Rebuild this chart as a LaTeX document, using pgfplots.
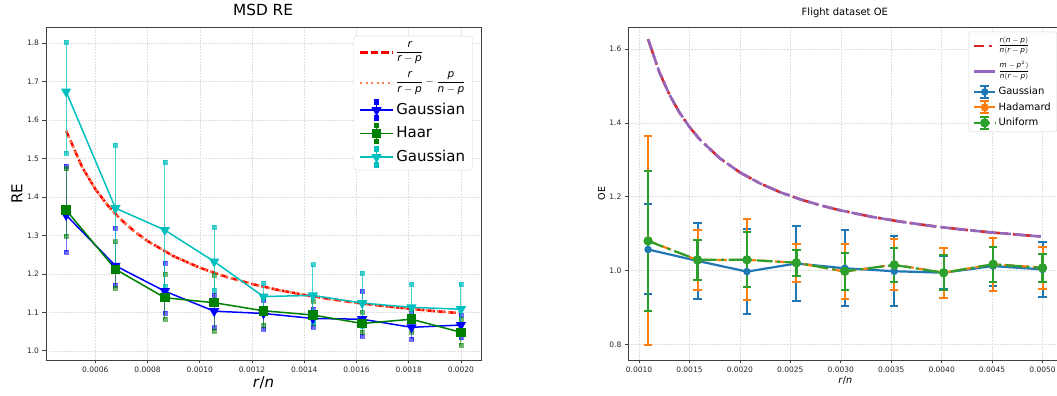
\documentclass[border=0pt]{standalone}
\usepackage{amsmath}
\usepackage{fontspec}
\setmainfont{DejaVu Sans}
\usepackage{pgfplots}
\usepackage{pgfplotstable}
\pgfplotsset{compat=1.18}
\definecolor{mplblue}{HTML}{1F77B4}
\definecolor{mplorange}{HTML}{FF7F0E}
\definecolor{mplgreen}{HTML}{2CA02C}
\definecolor{mplred}{HTML}{D62728}
\definecolor{mplpurple}{HTML}{9467BD}
\definecolor{cc}{RGB}{0,191,191}
\definecolor{gg}{RGB}{0,128,0}
\definecolor{mycoral}{HTML}{FF7F50}

\pgfplotstableread{
x y ep em
0.000488 1.353 0.127 0.096
0.000677 1.221 0.099 0.051
0.000866 1.155 0.072 0.058
0.001055 1.103 0.042 0.043
0.001244 1.097 0.035 0.041
0.001433 1.084 0.024 0.022
0.001622 1.082 0.074 0.044
0.001811 1.061 0.038 0.030
0.002000 1.067 0.026 0.033
}\msdgauss
\pgfplotstableread{
x y ep em
0.000488 1.366 0.108 0.067
0.000677 1.212 0.072 0.048
0.000866 1.138 0.061 0.055
0.001055 1.125 0.072 0.074
0.001244 1.104 0.035 0.037
0.001433 1.093 0.036 0.022
0.001622 1.071 0.030 0.022
0.001811 1.082 0.026 0.033
0.002000 1.048 0.034 0.033
}\msdhaar
\pgfplotstableread{
x y ep em
0.000488 1.674 0.129 0.160
0.000677 1.371 0.163 0.150
0.000866 1.314 0.176 0.146
0.001055 1.232 0.090 0.075
0.001244 1.141 0.035 0.040
0.001433 1.144 0.080 0.069
0.001622 1.124 0.079 0.060
0.001811 1.113 0.061 0.045
0.002000 1.108 0.066 0.055
}\msdgaussb
\pgfplotstableread{
x y e
0.00109 1.057 0.122
0.00158 1.026 0.102
0.00207 0.997 0.116
0.00256 1.019 0.102
0.00304 1.006 0.103
0.00353 0.998 0.095
0.00402 0.994 0.045
0.00451 1.012 0.053
0.00500 1.003 0.074
}\flgauss
\pgfplotstableread{
x y e
0.00109 1.081 0.283
0.00158 1.028 0.082
0.00207 1.029 0.110
0.00256 1.021 0.051
0.00304 0.997 0.075
0.00353 1.016 0.070
0.00402 0.994 0.068
0.00451 1.017 0.072
0.00500 1.008 0.057
}\flhad
\pgfplotstableread{
x y e
0.00109 1.080 0.189
0.00158 1.029 0.054
0.00207 1.029 0.074
0.00256 1.021 0.035
0.00304 0.998 0.050
0.00353 1.015 0.047
0.00402 0.994 0.047
0.00451 1.017 0.048
0.00500 1.007 0.038
}\flunif

\newcommand{\lstrut}{\rule[-3.8pt]{0pt}{16pt}}
\newcommand{\rstrut}{\rule[-2.3pt]{0pt}{9.8pt}}

\pgfplotsset{
  legL/.style={legend image code/.code={\draw[mark=none] (0pt,0pt) -- (33pt,0pt);}},
  errL/.style={legend image code/.code={
     \draw[mark=none] (0pt,0pt) -- (33pt,0pt);
     \draw[mark=none,line width=1.2pt] (16.5pt,-8pt) -- (16.5pt,8pt);
     \path[mark=square*,mark size=2pt,mark options={rotate=0}] plot coordinates {(16.5pt,-8pt) (16.5pt,8pt)};
     \path plot coordinates {(16.5pt,0pt)};}},
  errR/.style={legend image code/.code={
     \draw[mark=none] (0pt,0pt) -- (21pt,0pt);
     \draw[mark=none,solid,line width=2pt] (10.5pt,-6pt) -- (10.5pt,6pt);
     \draw[mark=none,solid,line width=2pt] (6pt,-6pt) -- (15pt,-6pt) (6pt,6pt) -- (15pt,6pt);
     \path plot coordinates {(10.5pt,0pt)};}},
  common/.style={
    scale only axis,
    /pgf/number format/assume math mode=true,
    grid=major,
    grid style={dash pattern=on 1.5pt off 1.5pt, black!13, line width=0.5pt},
    axis line style={black!75, line width=0.7pt},
    tick style={black!75, line width=0.6pt},
    major tick length=3.5pt,
    tick align=outside, tick pos=left,
    ticklabel style={font=\fontsize{7.5}{9}\selectfont, text=black!85},
    scaled x ticks=false, scaled y ticks=false,
    xticklabel style={/pgf/number format/.cd, fixed, fixed zerofill, precision=4},
    yticklabel style={/pgf/number format/.cd, fixed, fixed zerofill, precision=1},
    legend cell align=left,
  },
}

\begin{document}
\begin{tikzpicture}
\useasboundingbox (0,0) rectangle (1057pt,396pt);
\clip (0,0) rectangle (1057pt,396pt);

% ---------------- left: MSD RE ----------------
\begin{axis}[common,
  at={(46pt,36pt)}, anchor=south west, width=435pt, height=333pt,
  xmin=0.000411, xmax=0.002077, ymin=0.976, ymax=1.842,
  xtick={0.0006,0.0008,0.0010,0.0012,0.0014,0.0016,0.0018,0.0020},
  ytick={1.0,1.1,1.2,1.3,1.4,1.5,1.6,1.7,1.8},
  title={MSD RE},
  title style={at={(axis description cs:0.499,1.033)}, anchor=center, font=\fontsize{15.3}{18}\selectfont},
  xlabel={\textit{r}/\textit{n}},
  xlabel style={at={(axis description cs:0.5,-0.069)}, anchor=center, font=\fontsize{15}{18}\selectfont},
  ylabel={RE},
  ylabel style={at={(axis description cs:-0.067,0.5)}, anchor=center, font=\fontsize{15}{18}\selectfont},
  legend style={at={(0.981,0.973)}, anchor=north east, draw=black!15, rounded corners=3pt,
     fill=white, font=\fontsize{15}{18}\selectfont, row sep=3.5pt, inner xsep=5pt, inner ysep=3pt,
     nodes={inner sep=2pt, text depth=}},
]
\addplot[red, line width=2.5pt, dash pattern=on 7.5pt off 3pt, legL] coordinates {
(0.000488,1.5722) (0.00055,1.4769) (0.0006,1.4205) (0.00065,1.3760) (0.0007,1.3400)
(0.00075,1.3103) (0.0008,1.2853) (0.0009,1.2458) (0.001,1.2160) (0.0011,1.1925)
(0.0012,1.1737) (0.0013,1.1582) (0.0014,1.1453) (0.0015,1.1343) (0.0016,1.1249)
(0.0017,1.1167) (0.0018,1.1095) (0.0019,1.1031) (0.002,1.0975)};
\addlegendentry{\fontsize{10.5}{13}\selectfont$\dfrac{\textit{r}}{\textit{r}-\textit{p}}$}
\addplot[mycoral, line width=2.5pt, dash pattern=on 2pt off 3.5pt, legL] coordinates {
(0.000488,1.5720) (0.00055,1.4767) (0.0006,1.4203) (0.00065,1.3758) (0.0007,1.3398)
(0.00075,1.3101) (0.0008,1.2851) (0.0009,1.2456) (0.001,1.2158) (0.0011,1.1923)
(0.0012,1.1735) (0.0013,1.1580) (0.0014,1.1451) (0.0015,1.1341) (0.0016,1.1247)
(0.0017,1.1165) (0.0018,1.1093) (0.0019,1.1029) (0.002,1.0973)};
\addlegendentry{\fontsize{10.5}{13}\selectfont$\dfrac{\textit{r}}{\textit{r}-\textit{p}}-\dfrac{\textit{p}}{\textit{n}-\textit{p}}$}

\addplot[blue, line width=1.5pt, mark=triangle*, mark size=4.5pt, mark options={rotate=180, solid}, errL,
  error bars/.cd, y dir=both, y explicit, error mark=square*,
  error bar style={line width=1.2pt, blue, opacity=0.55},
  error mark options={mark size=2pt, blue, fill=blue, rotate=0}]
  table[x=x, y=y, y error plus=ep, y error minus=em] {\msdgauss};
\addlegendentry{Gaussian\lstrut}
\addplot[gg, line width=1.5pt, mark=square*, mark size=4pt, mark options={solid}, errL,
  error bars/.cd, y dir=both, y explicit, error mark=square*,
  error bar style={line width=1.2pt, gg, opacity=0.55},
  error mark options={mark size=2pt, gg, fill=gg}]
  table[x=x, y=y, y error plus=ep, y error minus=em] {\msdhaar};
\addlegendentry{Haar\lstrut}
\addplot[cc, line width=1.5pt, mark=triangle*, mark size=4.5pt, mark options={rotate=180, solid}, errL,
  error bars/.cd, y dir=both, y explicit, error mark=square*,
  error bar style={line width=1.2pt, cc, opacity=0.7},
  error mark options={mark size=2pt, cc, fill=cc, rotate=0}]
  table[x=x, y=y, y error plus=ep, y error minus=em] {\msdgaussb};
\addlegendentry{Gaussian\lstrut}
\end{axis}

% ---------------- right: Flight dataset OE ----------------
\begin{axis}[common,
  at={(628.3pt,36pt)}, anchor=south west, width=434pt, height=332.7pt,
  xmin=0.000894, xmax=0.005196, ymin=0.7575, ymax=1.659,
  xtick={0.0010,0.0015,0.0020,0.0025,0.0030,0.0035,0.0040,0.0045,0.0050},
  ytick={0.8,1.0,1.2,1.4,1.6},
  title={Flight dataset OE},
  title style={at={(axis description cs:0.499,1.027)}, anchor=center, font=\fontsize{10}{12}\selectfont},
  xlabel={\textit{r}/\textit{n}},
  xlabel style={at={(axis description cs:0.5,-0.062)}, anchor=center, font=\fontsize{9.6}{11}\selectfont},
  ylabel={OE},
  ylabel style={at={(axis description cs:-0.0613,0.5)}, anchor=center, font=\fontsize{9.6}{11}\selectfont},
  legend style={at={(0.9878,0.9868)}, anchor=north east, draw=black!15, rounded corners=2pt,
     fill=white, font=\fontsize{10}{12}\selectfont, row sep=1.5pt, inner xsep=4pt, inner ysep=2pt,
     nodes={inner sep=2pt, text depth=}},
]
\addplot[mplred, line width=2.6pt, dash pattern=on 19pt off 5pt on 3pt off 5pt, legend image code/.code={
   \draw[mark=none, dash pattern=on 10pt off 5pt on 3pt off 5pt] (0pt,0pt) -- (21pt,0pt);}] coordinates {
(0.00109,1.6269) (0.0012,1.5385) (0.0013,1.4773) (0.0014,1.4286) (0.0015,1.3889)
(0.0016,1.3559) (0.0018,1.3043) (0.002,1.2658) (0.0022,1.2360) (0.0024,1.2121)
(0.0026,1.1927) (0.0028,1.1765) (0.003,1.1628) (0.0033,1.1458) (0.0036,1.1321)
(0.0039,1.1207) (0.0042,1.1111) (0.0045,1.1029) (0.005,1.0917)};
\addlegendentry{\fontsize{7.3}{9}\selectfont\rule[-8.5pt]{0pt}{20pt}$\dfrac{\textit{r}(\textit{n}-\textit{p})}{\textit{n}(\textit{r}-\textit{p})}$}
\addplot[mplpurple, line width=2.6pt, dash pattern=on 11pt off 4pt, legend image code/.code={
   \draw[mark=none, solid] (0pt,0pt) -- (21pt,0pt);}] coordinates {
(0.00109,1.6269) (0.0012,1.5385) (0.0013,1.4773) (0.0014,1.4286) (0.0015,1.3889)
(0.0016,1.3559) (0.0018,1.3043) (0.002,1.2658) (0.0022,1.2360) (0.0024,1.2121)
(0.0026,1.1927) (0.0028,1.1765) (0.003,1.1628) (0.0033,1.1458) (0.0036,1.1321)
(0.0039,1.1207) (0.0042,1.1111) (0.0045,1.1029) (0.005,1.0917)};
\addlegendentry{\fontsize{7.3}{9}\selectfont\rule[-8.5pt]{0pt}{20pt}$\dfrac{\textit{m}-\textit{p}^{2})}{\textit{n}(\textit{r}-\textit{p})}$}

\addplot[mplblue, line width=2.2pt, mark=*, mark size=2.6pt, mark options={solid}, errR,
  error bars/.cd, y dir=both, y explicit, error mark=|,
  error bar style={line width=2pt, mplblue, solid},
  error mark options={line width=2pt, mark size=4.2pt, mplblue, solid}]
  table[x=x, y=y, y error=e] {\flgauss};
\addlegendentry{Gaussian\rstrut}
\addplot[mplorange, line width=2.2pt, dash pattern=on 10pt off 4.5pt, mark=*, mark size=3pt, mark options={solid}, errR,
  error bars/.cd, y dir=both, y explicit, error mark=|,
  error bar style={line width=2pt, mplorange, solid},
  error mark options={line width=2pt, mark size=4.2pt, mplorange, solid}]
  table[x=x, y=y, y error=e] {\flhad};
\addlegendentry{Hadamard\rstrut}
\addplot[mplgreen, line width=2.2pt, dash pattern=on 16pt off 4.5pt on 3pt off 4.5pt, mark=*, mark size=3.5pt, mark options={solid}, errR,
  error bars/.cd, y dir=both, y explicit, error mark=|,
  error bar style={line width=2.3pt, mplgreen, solid},
  error mark options={line width=2pt, mark size=4.2pt, mplgreen, solid}]
  table[x=x, y=y, y error=e] {\flunif};
\addlegendentry{Uniform\rstrut}
\end{axis}
\end{tikzpicture}
\end{document}
